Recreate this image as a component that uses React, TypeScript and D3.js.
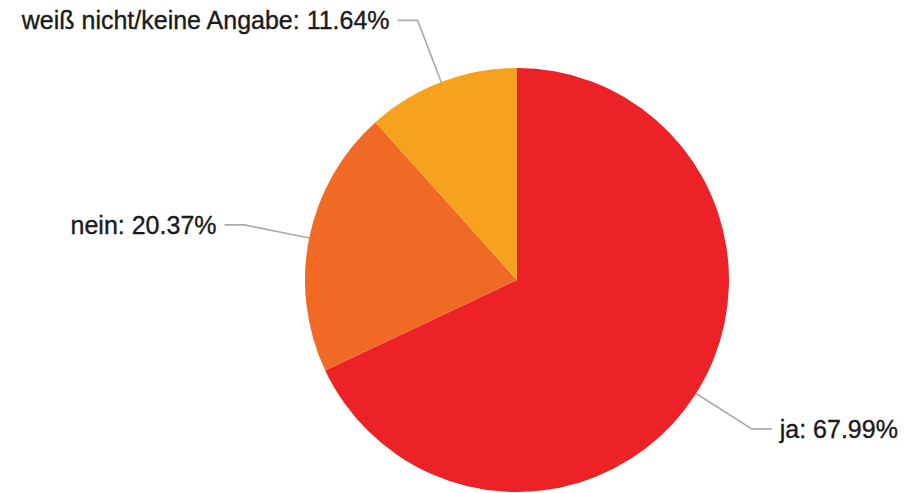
import React from "react";
import * as d3 from "d3";

const categories = ["ja", "nein", "weiß nicht/keine Angabe"];
const values = [67.99, 20.37, 11.64];
const colors = ["#ec2227", "#f06a25", "#f7a21f"];

const W = 904;
const H = 493;
const cx = 517;
const cy = 280;
const R = 212;
const elbowR = 278;
const hLen = 20;
const gap = 8;

export default function App() {
  const data = categories.map((c, i) => ({ c, v: values[i], color: colors[i] }));
  const pie = d3.pie<any>().value((d) => d.v).sort(null);
  const arcs = pie(data);
  const arc = d3.arc<any>().innerRadius(0).outerRadius(R);

  return (
    <svg
      width={W}
      height={H}
      style={{ position: "absolute", left: 0, top: 0 }}
      fontFamily="'Liberation Sans', Arial, Helvetica, sans-serif"
    >
      <g transform={`translate(${cx},${cy})`}>
        {arcs.map((a, i) => (
          <path key={i} d={arc(a) as string} fill={a.data.color} />
        ))}
        {arcs.map((a, i) => {
          const mid = (a.startAngle + a.endAngle) / 2;
          const sx = R * Math.sin(mid);
          const sy = -R * Math.cos(mid);
          const ex = elbowR * Math.sin(mid);
          const ey = -elbowR * Math.cos(mid);
          const right = Math.sin(mid) > 0;
          const hx = ex + (right ? hLen : -hLen);
          const tx = hx + (right ? gap : -gap);
          return (
            <g key={i}>
              <polyline
                points={`${sx},${sy} ${ex},${ey} ${hx},${ey}`}
                fill="none"
                stroke="#aaaaaa"
                strokeWidth={1.6}
              />
              <text
                x={tx}
                y={ey}
                dy="0.35em"
                textAnchor={right ? "start" : "end"}
                fontSize={25}
                fill="#1a1a1a"
                stroke="#1a1a1a"
                strokeWidth={0.35}
              >
                {`${a.data.c}: ${a.data.v.toFixed(2)}%`}
              </text>
            </g>
          );
        })}
      </g>
    </svg>
  );
}
